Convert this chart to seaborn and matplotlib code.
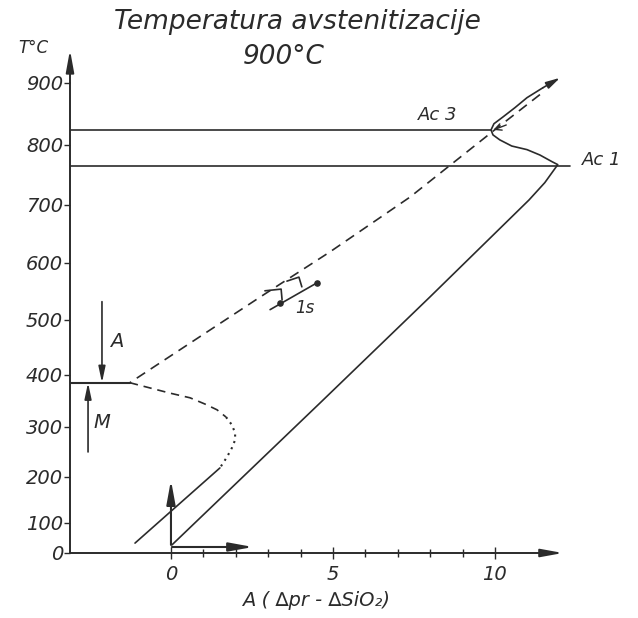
import matplotlib.pyplot as plt
import numpy as np
import seaborn as sns
from matplotlib.scale import FuncScale

# ── Podatki (odčitano s slike) ──────────────────────────────────────────────
# T v °C, A = (∆pr - ∆SiO2)
AC3 = 824
AC1 = 765
MS = 385

# segrevanje: od izhodišča do Ac1, nazaj do Ac3 in naprej navzgor
heat_A = [0.03, 4.60, 7.99, 11.05, 11.54, 11.94, 11.76, 11.39, 10.99, 10.52,
          10.15, 9.94, 9.88, 9.97, 10.25, 10.62, 10.99, 11.48, 12.01]
heat_T = [27, 346, 540, 708, 737, 767, 772, 783, 792, 798,
          808, 816, 824, 834, 845, 860, 876, 892, 908]

# ohlajanje (črtkano) od Ac3 do plato
cool_A = [11.39, 9.99, 7.38, 4.91, 2.75, -1.27]
cool_T = [881, 824, 713, 619, 540, MS]

# spodnja krivulja: črtkano, pikčasto, polno
low_dash_A = [-1.27, -0.65, -0.03, 0.59, 1.05, 1.42, 1.70]
low_dash_T = [MS, 375, 365, 356, 344, 333, 319]
low_dot_A = [1.70, 1.88, 1.98, 1.98, 1.88, 1.73, 1.51]
low_dot_T = [319, 304, 288, 274, 258, 240, 218]
low_line_A = [1.51, -1.11]
low_line_T = [218, 33]

# plato in puščici A, M
plateau_A = [-3.12, -1.27]
arrow_A_x, arrow_A_top = -2.13, 532
arrow_M_x, arrow_M_bottom = -2.56, 250

# oznaka 1 s
br1_A = [2.90, 3.40, 3.43]
br1_T = [551, 554, 535]
br2_A = [3.58, 3.95, 4.04]
br2_T = [568, 575, 558]
bar_A = [3.06, 4.57]
bar_T = [518, 567]
dot_A = [3.36, 4.51]
dot_T = [530, 565]

y_ticks = [0, 100, 200, 300, 400, 500, 600, 700, 800, 900]
x_ticks_major = [0, 5, 10]
x_ticks_minor = [1, 2, 3, 4, 6, 7, 8, 9]

# ── Skala osi T (na skeniranem diagramu ni enakomerna) ──────────────────────
T_ext = [-200] + y_ticks + [1200]
P_ext = [-60, 0, 30, 76, 126, 178, 233, 290, 348, 408, 470, 656]


def fwd(t):
    return np.interp(t, T_ext, P_ext)


def inv(p):
    return np.interp(p, P_ext, T_ext)


INK = "#2b2b2b"
LW = 1.2

sns.set_theme(style="white")
plt.rcParams["font.family"] = ["DejaVu Sans"]

fig = plt.figure(figsize=(6.38, 6.18), dpi=100, facecolor="white")
ax = fig.add_axes([70 / 638, 65 / 618, 560 / 638, 513 / 618])
ax.set_yscale(FuncScale(ax.yaxis, (fwd, inv)))
ax.set_xlim(-3.117, 14.17)
ax.set_ylim(0, 969)

# horizontalne črte Ac3, Ac1
ax.plot([-3.117, 9.88], [AC3, AC3], color=INK, lw=LW)
ax.plot([-3.117, 12.31], [AC1, AC1], color=INK, lw=LW)

sns.lineplot(x=heat_A[:-1], y=heat_T[:-1], sort=False, estimator=None,
             color=INK, lw=LW, ax=ax)
ax.annotate("", xy=(heat_A[-1], heat_T[-1]), xytext=(heat_A[-2], heat_T[-2]),
            arrowprops=dict(arrowstyle="-|>,head_length=0.7,head_width=0.18",
                            color=INK, lw=LW, shrinkA=0, shrinkB=0))

sns.lineplot(x=cool_A, y=cool_T, sort=False, estimator=None, color=INK,
             lw=LW, linestyle=(0, (6, 4)), ax=ax)
# puščica na črtkani črti pri Ac3
ax.annotate("", xy=(9.95, AC3), xytext=(10.35, 832),
            arrowprops=dict(arrowstyle="->,head_length=0.4,head_width=0.2",
                            color=INK, lw=1.0, shrinkA=0, shrinkB=0))

sns.lineplot(x=low_dash_A, y=low_dash_T, sort=False, estimator=None,
             color=INK, lw=LW, linestyle=(0, (5, 3.5)), ax=ax)
sns.lineplot(x=low_dot_A, y=low_dot_T, sort=False, estimator=None,
             color=INK, lw=LW + 0.3, linestyle=(0, (1, 2.2)), ax=ax)
sns.lineplot(x=low_line_A, y=low_line_T, sort=False, estimator=None,
             color=INK, lw=LW, ax=ax)

ax.plot(plateau_A, [MS, MS], color=INK, lw=LW + 0.3)

arrow_kw = dict(arrowstyle="-|>,head_length=0.8,head_width=0.17",
                color=INK, lw=LW, shrinkA=0, shrinkB=0)
ax.annotate("", xy=(arrow_A_x, MS), xytext=(arrow_A_x, arrow_A_top),
            arrowprops=arrow_kw)
ax.annotate("", xy=(arrow_M_x, MS), xytext=(arrow_M_x, arrow_M_bottom),
            arrowprops=arrow_kw)

# puščici v izhodišču
thick_kw = dict(arrowstyle="-|>,head_length=1.2,head_width=0.22",
                color=INK, lw=LW + 0.3, shrinkA=0, shrinkB=0)
ax.annotate("", xy=(0, 193), xytext=(0, 27), arrowprops=thick_kw)
ax.annotate("", xy=(2.53, 20), xytext=(0.03, 20), arrowprops=thick_kw)

# oznaka 1 s
ax.plot(br1_A, br1_T, color=INK, lw=LW)
ax.plot(br2_A, br2_T, color=INK, lw=LW)
ax.plot(bar_A, bar_T, color=INK, lw=LW)
ax.scatter(dot_A, dot_T, s=14, color=INK, zorder=3)
ax.text(4.14, 521, "1s", fontsize=12, style="italic", color=INK,
        ha="center", va="center")

# oznake
txt = dict(color=INK, style="italic", va="center")
ax.text(8.24, 848, "Ac 3", fontsize=13, ha="center", **txt)
ax.text(12.69, 775, "Ac 1", fontsize=13, ha="left", **txt)
ax.text(-1.67, 460, "A", fontsize=14, ha="center", **txt)
ax.text(-2.13, 308, "M", fontsize=14, ha="center", **txt)

# osi
for s in ["top", "right"]:
    ax.spines[s].set_visible(False)
for s in ["left", "bottom"]:
    ax.spines[s].set_color(INK)
    ax.spines[s].set_linewidth(LW + 0.2)
ax.spines["left"].set_bounds(0, 900)
ax.spines["bottom"].set_bounds(-3.117, 10)
ax_arrow = dict(arrowstyle="-|>,head_length=1.1,head_width=0.2",
                color=INK, lw=LW + 0.2, shrinkA=0, shrinkB=0)
ax.annotate("", xy=(-3.117, 953), xytext=(-3.117, 899), arrowprops=ax_arrow,
            annotation_clip=False)
ax.annotate("", xy=(12.1, 0), xytext=(9.9, 0), arrowprops=ax_arrow,
            annotation_clip=False)

ax.set_yticks(y_ticks)
ax.set_yticklabels([str(v) for v in y_ticks])
ax.set_xticks(x_ticks_major)
ax.set_xticklabels([str(v) for v in x_ticks_major])
ax.set_xticks(x_ticks_minor, minor=True)
ax.tick_params(axis="y", direction="out", length=4, width=1.0, pad=1,
               colors=INK, labelsize=14, left=True)
ax.tick_params(axis="x", which="major", direction="inout", length=9,
               width=1.0, pad=4, colors=INK, labelsize=14, bottom=True)
ax.tick_params(axis="x", which="minor", direction="inout", length=6,
               width=1.0, bottom=True)
for lab in ax.get_xticklabels() + ax.get_yticklabels():
    lab.set_fontstyle("italic")
ax.grid(False)

fig.text(297 / 638, 1 - 22 / 618, "Temperatura avstenitizacije", fontsize=19,
         ha="center", va="center", color=INK, style="italic")
fig.text(284 / 638, 1 - 57 / 618, "900°C", fontsize=19, ha="center",
         va="center", color=INK, style="italic")
fig.text(33 / 638, 1 - 48 / 618, "T°C", fontsize=12, ha="center",
         va="center", color=INK, style="italic")
fig.text(316 / 638, 1 - 600 / 618, "A ( ∆pr - ∆SiO₂)", fontsize=14,
         ha="center", va="center", color=INK, style="italic")

fig.savefig("out.png", dpi=100, facecolor="white")
